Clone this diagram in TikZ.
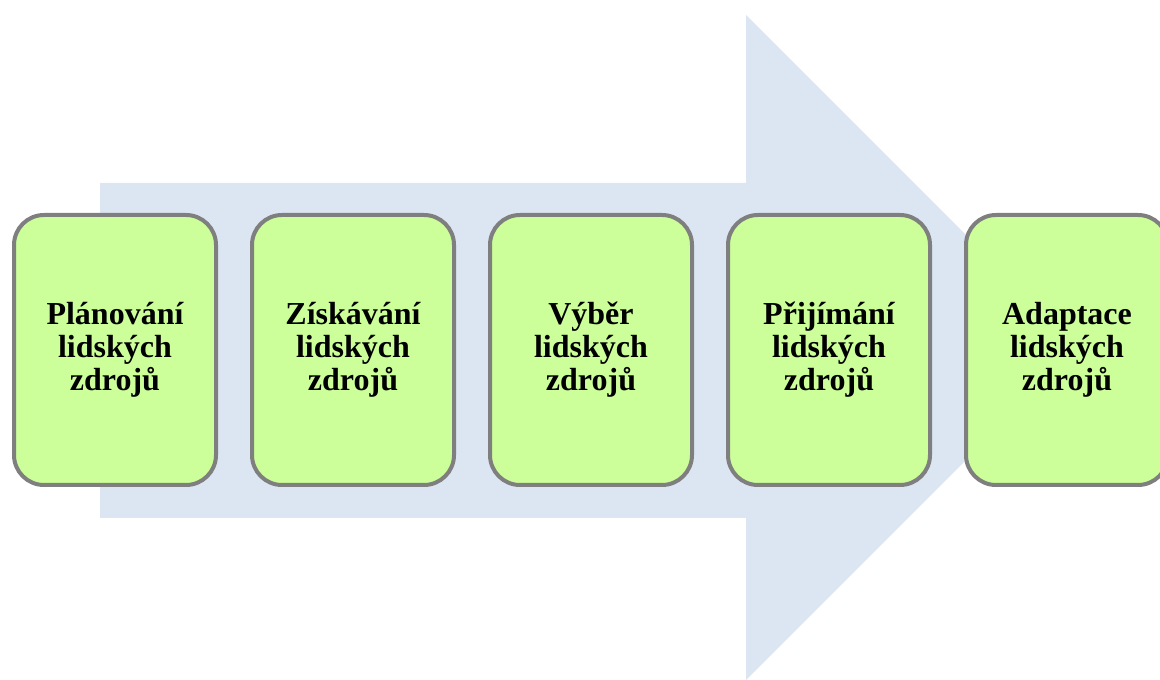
\documentclass[tikz,border=0pt]{standalone}
\usepackage{fontspec}
\setmainfont{Liberation Serif}
\usetikzlibrary{calc}
\definecolor{arrowcol}{HTML}{DCE6F2}
\definecolor{boxcol}{HTML}{CCFF99}
\definecolor{boxline}{HTML}{7F7F7F}
\tikzstyle{bigarrow}=[fill=arrowcol,draw=none]
\tikzstyle{stage}=[draw=boxline,line width=4pt,fill=boxcol,rounded corners=30pt,
  minimum width=202pt,minimum height=270pt,align=center,inner sep=0pt,
  font=\bfseries\fontsize{32}{33}\selectfont]

\begin{document}
\begin{tikzpicture}[x=1pt,y=1pt]
  \def\W{1160}  % picture width
  \def\H{680}   % picture height
  \def\D{238}   % distance between stages
  \useasboundingbox (0,0) rectangle (\W,\H);
  % Clip to the picture
  \clip (0,0) rectangle (\W,\H);

  % the big arrow behind the stages
  \fill[bigarrow] (100,162) -- (746,162) -- (746,0) -- (1078.5,332.5)
    -- (746,665) -- (746,497) -- (100,497) -- cycle;

  % stages of the process
  \foreach \i/\txt in {0/{Plánování\\lidských\\zdrojů},
                       1/{Získávání\\lidských\\zdrojů},
                       2/{Výběr\\lidských\\zdrojů},
                       3/{Přijímání\\lidských\\zdrojů},
                       4/{Adaptace\\lidských\\zdrojů}} {
    \node[stage] (stage\i) at (115+\i*\D,330) {\txt};
  }
\end{tikzpicture}
\end{document}
